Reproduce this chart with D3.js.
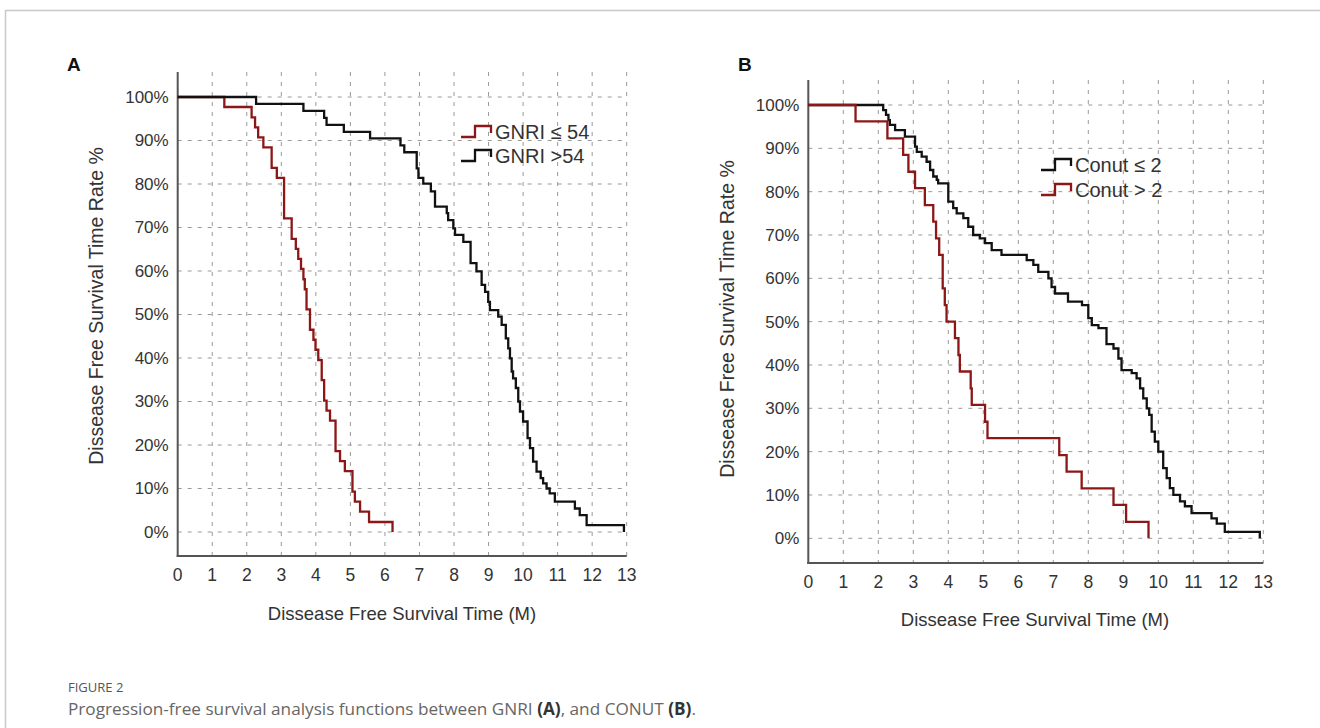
<!DOCTYPE html>
<html>
<head>
<meta charset="utf-8">
<script src="https://cdn.jsdelivr.net/npm/d3@7"></script>
<style>
  body { margin: 0; background: #fff; }
  svg { display: block; }
</style>
</head>
<body>
<div id="chart"></div>
<script>
// month ticks and percent ticks shared by both panels
var monthTicks = d3.range(0, 14)
var pctTicks = [0, 10, 20, 30, 40, 50, 60, 70, 80, 90, 100]

// Panel A: GNRI <= 54 (step times in months, survival % after step)
var gnriLowT = [1.35, 2.14, 2.24, 2.33, 2.48, 2.72, 2.87, 3.08, 3.30, 3.42, 3.49, 3.57, 3.64, 3.68, 3.73, 3.83, 3.93, 3.99, 4.07, 4.17, 4.24, 4.31, 4.41, 4.57, 4.70, 4.84, 5.06, 5.13, 5.28, 5.54, 6.22]
var gnriLowS = [97.7, 95.3, 93.0, 90.7, 88.4, 83.7, 81.4, 72.1, 67.4, 65.1, 62.8, 60.5, 58.1, 55.8, 51.2, 46.5, 44.2, 41.9, 39.5, 34.9, 30.2, 27.9, 25.6, 18.6, 16.3, 14.0, 9.3, 7.0, 4.7, 2.3, 0]
// Panel A: GNRI > 54
var gnriHighT = [2.27, 3.64, 4.24, 4.31, 4.81, 5.57, 6.45, 6.56, 6.92, 6.97, 7.11, 7.33, 7.45, 7.79, 7.83, 7.98, 8.03, 8.27, 8.48, 8.65, 8.80, 8.90, 8.99, 9.04, 9.28, 9.38, 9.50, 9.57, 9.62, 9.67, 9.71, 9.79, 9.86, 9.91, 10.00, 10.13, 10.20, 10.29, 10.39, 10.51, 10.58, 10.68, 10.77, 10.92, 11.50, 11.64, 11.84, 12.92]
var gnriHighS = [98.4, 96.8, 95.2, 93.6, 92.0, 90.5, 88.9, 87.3, 83.6, 81.4, 80.1, 78.3, 74.8, 73.3, 71.7, 69.8, 68.3, 66.7, 61.8, 59.9, 56.8, 55.2, 52.9, 51.0, 49.5, 47.6, 44.5, 42.2, 39.9, 36.9, 35.3, 33.1, 30.0, 27.7, 25.4, 21.6, 19.3, 16.2, 13.9, 12.4, 11.2, 10.0, 8.9, 7.0, 5.4, 3.9, 1.6, 0]

// Panel B: Conut <= 2
var conutLowT = [2.14, 2.22, 2.29, 2.33, 2.48, 2.76, 3.05, 3.10, 3.24, 3.38, 3.48, 3.57, 3.67, 3.71, 4.00, 4.14, 4.24, 4.43, 4.57, 4.71, 4.90, 5.05, 5.24, 5.52, 6.24, 6.43, 6.57, 6.86, 6.95, 7.05, 7.42, 7.82, 8.00, 8.10, 8.29, 8.52, 8.72, 8.86, 8.95, 9.24, 9.38, 9.48, 9.57, 9.67, 9.74, 9.81, 9.90, 10.00, 10.14, 10.24, 10.33, 10.43, 10.62, 10.76, 10.95, 11.52, 11.67, 11.90, 12.90]
var conutLowS = [98.8, 97.7, 96.5, 95.4, 94.2, 92.7, 90.4, 89.2, 88.1, 86.9, 85.0, 83.5, 82.7, 81.9, 77.7, 76.2, 75.0, 73.9, 71.9, 70.0, 69.2, 68.1, 66.5, 65.4, 64.2, 63.1, 61.5, 60.0, 58.0, 56.5, 54.6, 53.8, 50.8, 49.2, 48.5, 44.8, 43.8, 41.5, 38.8, 38.1, 36.9, 34.6, 32.3, 30.0, 28.5, 24.6, 22.3, 20.0, 16.2, 13.9, 11.6, 10.0, 8.5, 7.4, 5.8, 4.6, 3.4, 1.5, 0]
// Panel B: Conut > 2
var conutHighT = [1.35, 2.26, 2.71, 2.86, 3.05, 3.33, 3.57, 3.65, 3.74, 3.84, 3.90, 3.95, 4.19, 4.29, 4.33, 4.64, 4.67, 5.05, 5.12, 7.17, 7.38, 7.81, 8.72, 9.08, 9.72]
var conutHighS = [96.2, 92.3, 88.5, 84.6, 80.8, 76.9, 73.1, 69.2, 65.4, 57.7, 53.8, 50.0, 46.2, 42.3, 38.5, 34.6, 30.8, 26.9, 23.1, 19.2, 15.4, 11.5, 7.7, 3.8, 0]

var darkRed = "#8c1717"
var black = "#111"
var font = "'Liberation Sans', Arial, sans-serif"

var svg = d3.select("#chart").append("svg")
    .attr("width", 1320)
    .attr("height", 728)

// outer figure frame
svg.append("rect")
    .attr("x", 5.5).attr("y", 10.5)
    .attr("width", 1340).attr("height", 740)
    .attr("fill", "none").attr("stroke", "#c8c8c8").attr("stroke-width", 1.5)

function zip(ts, ss){
	var pts = [[0, 100]]
	for(var i in ts){
		pts.push([ts[i], ss[i]])
	}
	return pts
}

function drawPanel(p){
	var x = d3.scaleLinear().domain([0, 13]).range([p.left, p.right])
	var y = d3.scaleLinear().domain([0, 100]).range([p.zeroY, p.fullY])
	var g = svg.append("g")

	// dashed grid
	g.selectAll(".hgrid").data(pctTicks).enter().append("line")
		.attr("x1", x(0)).attr("x2", x(13))
		.attr("y1", function(d){return y(d)}).attr("y2", function(d){return y(d)})
		.attr("stroke", "#999").attr("stroke-width", 1).attr("stroke-dasharray", "4,6")
	g.selectAll(".vgrid").data(monthTicks.slice(1)).enter().append("line")
		.attr("x1", function(d){return x(d)}).attr("x2", function(d){return x(d)})
		.attr("y1", p.top).attr("y2", p.axisY)
		.attr("stroke", "#999").attr("stroke-width", 1).attr("stroke-dasharray", "4,6")

	// axes lines
	g.append("line").attr("x1", x(0)).attr("x2", x(0)).attr("y1", p.top).attr("y2", p.axisY + 1)
		.attr("stroke", "#555").attr("stroke-width", 2)
	g.append("line").attr("x1", x(0) - 1).attr("x2", x(13)).attr("y1", p.axisY).attr("y2", p.axisY)
		.attr("stroke", "#555").attr("stroke-width", 2)

	// tick labels
	g.selectAll(".ylab").data(pctTicks).enter().append("text")
		.text(function(d){return d + "%"})
		.attr("x", x(0) - 9).attr("y", function(d){return y(d)})
		.attr("dy", "0.35em").attr("text-anchor", "end")
		.style("font-family", font).style("font-size", "17px").attr("fill", "#333")
	g.selectAll(".xlab").data(monthTicks).enter().append("text")
		.text(function(d){return d})
		.attr("x", function(d){return x(d)}).attr("y", p.axisY + 19)
		.attr("dy", "0.35em").attr("text-anchor", "middle")
		.style("font-family", font).style("font-size", "17.5px").attr("fill", "#333")

	// axis titles
	g.append("text").text("Dissease Free Survival Time (M)")
		.attr("x", p.xTitleX).attr("y", p.xTitleY).attr("dy", "0.35em")
		.attr("text-anchor", "middle")
		.style("font-family", font).style("font-size", "18.5px").attr("fill", "#333")
	g.append("text").text("Dissease Free Survival Time Rate %")
		.attr("transform", "translate(" + p.yTitleX + "," + p.yTitleY + ") rotate(-90)")
		.attr("dy", "0.35em").attr("text-anchor", "middle")
		.style("font-family", font).style("font-size", "19.5px").attr("fill", "#333")

	// curves
	var line = d3.line()
		.x(function(d){return x(d[0])})
		.y(function(d){return y(d[1])})
		.curve(d3.curveStepAfter)
	g.selectAll(".curve").data(p.series).enter().append("path")
		.attr("d", function(d){return line(zip(d.t, d.s))})
		.attr("fill", "none")
		.attr("stroke", function(d){return d.color})
		.attr("stroke-width", 2.3)

	// legend
	var lg = g.selectAll(".legend").data(p.series).enter().append("g")
		.attr("transform", function(d, i){return "translate(" + p.legX + "," + (p.legY + i * p.legGap) + ")"})
	lg.append("path")
		.attr("d", "M0,6 H14 V-5 H30 V2")
		.attr("fill", "none")
		.attr("stroke", function(d){return d.color})
		.attr("stroke-width", 2.3)
	lg.append("text").text(function(d){return d.name})
		.attr("x", 34).attr("y", 1).attr("dy", "0.35em")
		.style("font-family", font).style("font-size", "20px").attr("fill", "#333")

	// panel letter
	g.append("text").text(p.letter)
		.attr("x", p.letterX).attr("y", 71)
		.style("font-family", font).style("font-size", "19px").style("font-weight", "bold")
		.attr("fill", "#111")
}

drawPanel({
	letter: "A", letterX: 67,
	left: 177.7, right: 626.7, zeroY: 532, fullY: 97, top: 72, axisY: 556,
	xTitleX: 402, xTitleY: 614, yTitleX: 96, yTitleY: 306,
	legX: 461, legY: 131, legGap: 24,
	series: [
		{name: "GNRI \u2264 54", t: gnriLowT, s: gnriLowS, color: darkRed},
		{name: "GNRI >54", t: gnriHighT, s: gnriHighS, color: black}
	]
})

drawPanel({
	letter: "B", letterX: 738,
	left: 808.3, right: 1263.3, zeroY: 538.3, fullY: 105, top: 80, axisY: 563,
	xTitleX: 1035, xTitleY: 620, yTitleX: 727, yTitleY: 319,
	legX: 1041, legY: 164, legGap: 25,
	series: [
		{name: "Conut \u2264 2", t: conutLowT, s: conutLowS, color: black},
		{name: "Conut > 2", t: conutHighT, s: conutHighS, color: darkRed}
	]
})

// caption
var capFont = "'Open Sans', 'Noto Sans', sans-serif"
svg.append("text").text("FIGURE 2")
	.attr("x", 68).attr("y", 692)
	.style("font-family", capFont).style("font-size", "13px").attr("fill", "#555")
var cap = svg.append("text")
	.attr("x", 68).attr("y", 715)
	.style("font-family", capFont).style("font-size", "17.2px").attr("fill", "#666")
cap.append("tspan").text("Progression-free survival analysis functions between GNRI ")
cap.append("tspan").text("(A)").style("font-weight", "bold").attr("fill", "#333")
cap.append("tspan").text(", and CONUT ")
cap.append("tspan").text("(B)").style("font-weight", "bold").attr("fill", "#333")
cap.append("tspan").text(".")
</script>
</body>
</html>
